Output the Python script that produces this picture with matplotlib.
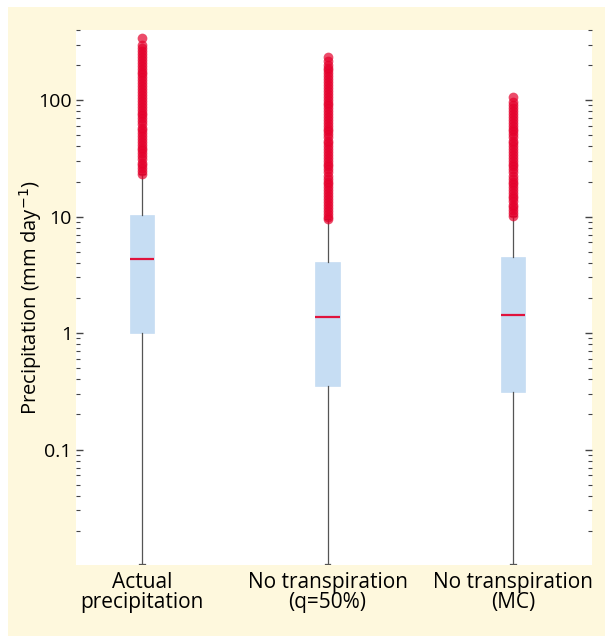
import matplotlib.pyplot as plt
from matplotlib.patches import Rectangle
from matplotlib.ticker import LogLocator, NullFormatter, FixedLocator, FixedFormatter

##################################################
# data (mm/day)
labels = ['Actual\nprecipitation', 'No transpiration\n(q=50%)', 'No transpiration\n(MC)']
q1 = [1.0, 0.35, 0.31]
med = [4.3, 1.37, 1.43]
q3 = [10.4, 4.05, 4.47]
whis_lo = [0.0104, 0.0104, 0.0104]
whis_hi = [23, 9.5, 10.2]

fliers_actual = [23, 24.5, 26, 27.5, 29, 31, 33, 35, 37, 39, 41.5, 44, 46.5, 49, 52,
                 55, 58, 62, 66, 70, 74, 78, 83, 88, 93, 99, 105, 111, 118, 125, 132,
                 140, 148, 157, 166, 176, 186, 197, 209, 221, 234, 248, 262, 278, 300, 340]
fliers_q50 = [9.5, 10, 10.6, 11.2, 11.9, 12.6, 13.4, 14.2, 15, 16, 17, 18, 19, 20, 21.2,
              22.5, 24, 25.5, 27, 28.5, 30, 32, 34, 36, 38, 40, 42.5, 45, 48, 51, 54, 57,
              60, 64, 68, 72, 76, 80, 85, 90, 95, 101, 107, 113, 120, 127, 135, 143, 151,
              160, 170, 180, 190, 202, 215, 235]
fliers_mc = [10.2, 10.8, 11.4, 12, 12.7, 13.5, 14.3, 15.1, 16, 17, 18, 19, 20, 21.2, 22.5,
             24, 25.5, 27, 28.5, 30, 32, 34, 36, 38, 40, 42.5, 45, 48, 51, 54, 57, 60, 64,
             68, 72, 76, 80, 85, 90, 97, 106]
fliers = [fliers_actual, fliers_q50, fliers_mc]
##################################################

plt.rcParams['font.family'] = ['Open Sans', 'DejaVu Sans']

fig = plt.figure(figsize=(6.05, 6.36), dpi=100)
fig.patch.set_facecolor('white')
# yellow panel behind the plot
panel = Rectangle((8 / 605, 0), 1, 1 - 7 / 636, transform=fig.transFigure,
                  facecolor='#FEF8DD', edgecolor='none', zorder=-10)
fig.add_artist(panel)

ax = fig.add_axes([76 / 605, 71 / 636, 516 / 605, 535 / 636])
ax.set_zorder(5)
ax.set_facecolor('white')

stats = []
for i in range(3):
    stats.append(dict(label=labels[i], q1=q1[i], med=med[i], q3=q3[i],
                      whislo=whis_lo[i], whishi=whis_hi[i], fliers=fliers[i]))

ax.bxp(stats, positions=[1, 2, 3], widths=0.13, patch_artist=True, capwidths=0.03,
       boxprops=dict(facecolor='#C6DDF3', edgecolor='#C6DDF3', linewidth=0.5),
       medianprops=dict(color='#E0133C', linewidth=1.6),
       whiskerprops=dict(color='#555555', linewidth=0.9),
       capprops=dict(color='#555555', linewidth=0.9),
       flierprops=dict(marker='o', markerfacecolor='#E4002B', markeredgecolor='none',
                       markersize=7.0, alpha=0.7))

ax.set_yscale('log')
ax.set_ylim(0.0102, 400)
ax.set_xlim(0.644, 3.426)

for s in ax.spines.values():
    s.set_visible(False)

# ticks on both sides pointing inward
ax.yaxis.set_major_locator(FixedLocator([0.1, 1, 10, 100]))
ax.yaxis.set_major_formatter(FixedFormatter(['0.1', '1', '10', '100']))
ax.yaxis.set_minor_locator(LogLocator(base=10, subs=range(2, 10), numticks=20))
ax.yaxis.set_minor_formatter(NullFormatter())
ax.tick_params(axis='y', which='both', direction='in', left=True, right=True,
               color='#444444', labelsize=14, pad=3)
ax.tick_params(axis='y', which='major', length=5, width=1.0)
ax.tick_params(axis='y', which='minor', length=3.2, width=0.8)
ax.tick_params(axis='x', length=0, labelsize=15, pad=5)
ax.set_xticks([1, 2, 3])
ax.set_xticklabels(labels, linespacing=0.95)

ax.set_ylabel('Precipitation (mm day$^{-1}$)', fontsize=14.5, labelpad=-4.5)

fig.savefig('out.png', dpi=100, facecolor=fig.get_facecolor())
